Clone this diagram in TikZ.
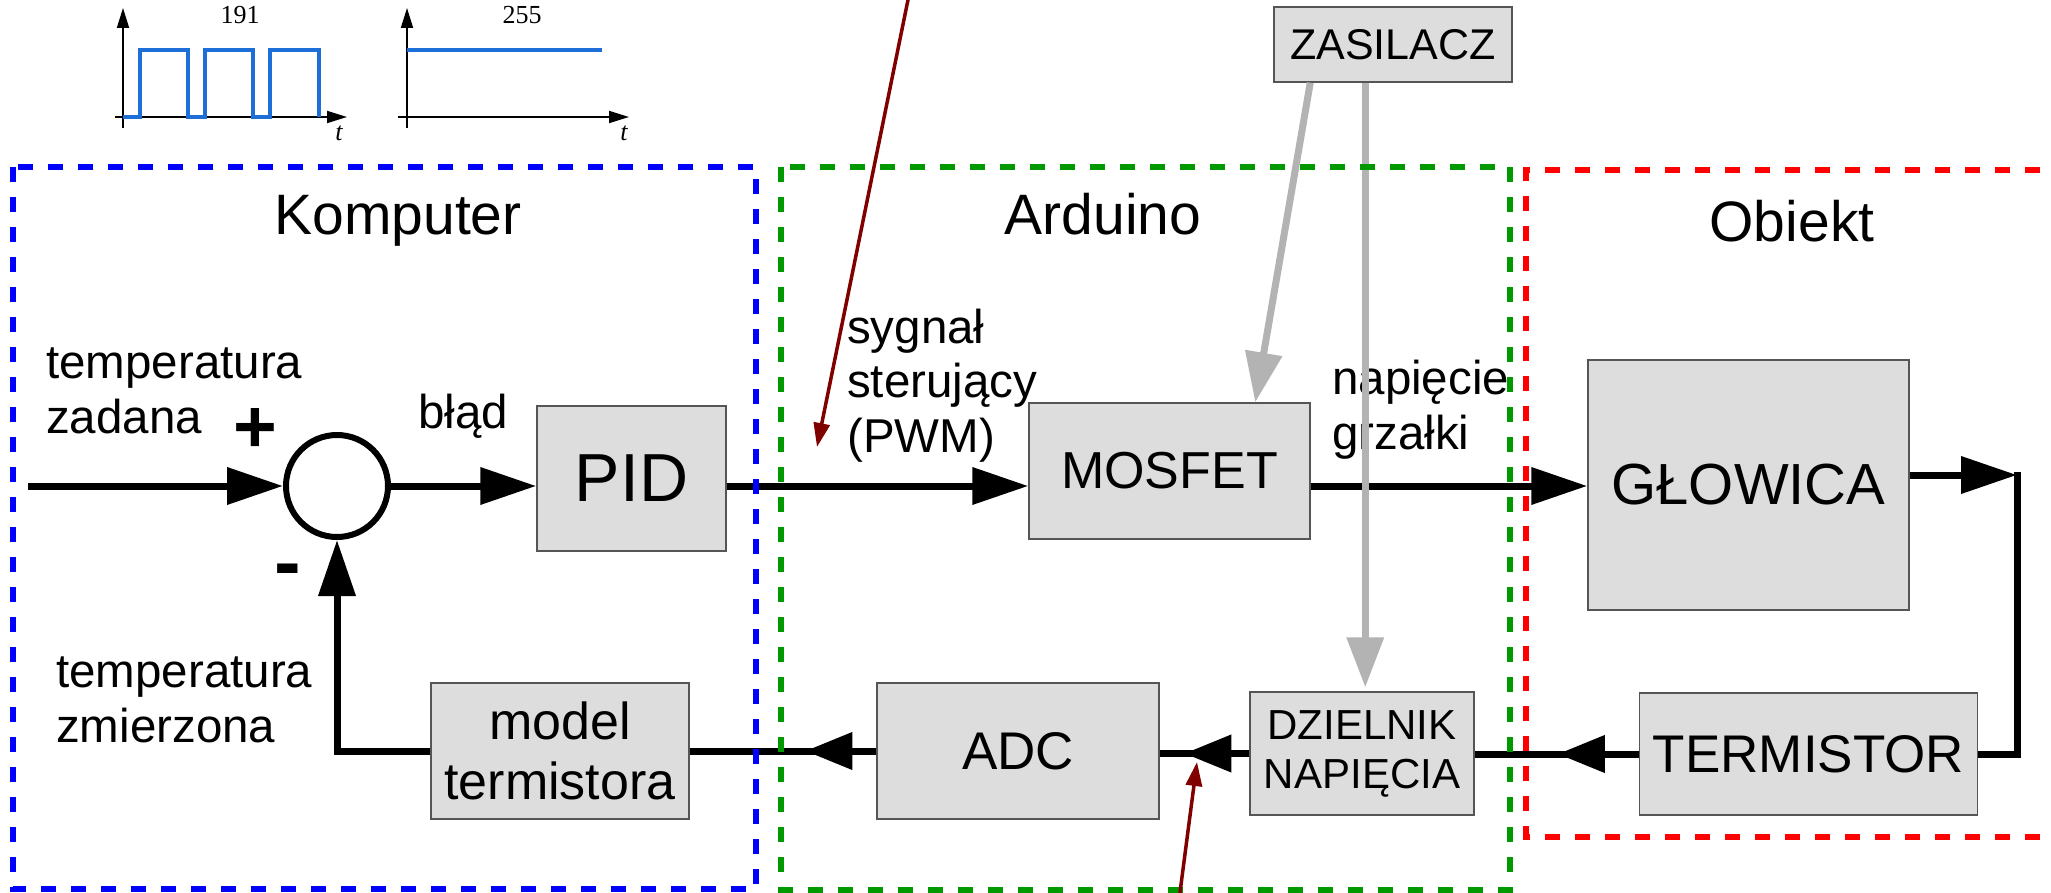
\documentclass[tikz,border=0pt]{standalone}
\usepackage{fontspec}
\setsansfont{Liberation Sans}
\newfontfamily\plotfont{Liberation Serif}
\usetikzlibrary{arrows.meta,calc}
\definecolor{boxgray}{HTML}{DDDDDD}
\definecolor{boxline}{HTML}{555555}
\definecolor{zblue}{HTML}{0000FF}
\definecolor{zgreen}{HTML}{009900}
\definecolor{zred}{HTML}{FF0000}
\definecolor{dred}{HTML}{800000}
\definecolor{pgray}{HTML}{B3B3B3}
\definecolor{wave}{HTML}{1E6ED7}
\tikzset{
  blk/.style={draw=boxline, line width=1.5pt, fill=boxgray, inner sep=0pt, align=center},
  conn/.style={line width=7pt, line join=miter},
  flow/.style={line width=7pt, line join=miter, -{Triangle[length=56pt,width=36pt]}},
  midflow/.style={line width=7pt, -{Triangle[length=47pt,width=36pt]}},
  pg/.style={draw=pgray, line width=7pt, -{Triangle[length=50pt,width=36pt]}},
  rarrow/.style={draw=dred, line width=3.5pt, -{Triangle[length=24pt,width=16pt]}},
  zone/.style={line width=6.5pt, dash pattern=on 15pt off 15pt},
  lbl/.style={font={\sffamily\fontsize{47.5}{54.5}\selectfont}, align=left, inner sep=0pt, anchor=base west},
  ttl/.style={font={\sffamily\fontsize{57}{64}\selectfont}, inner sep=0pt, anchor=base},
  axis/.style={line width=1.8pt, -{Triangle[length=20pt,width=12pt]}},
  wv/.style={draw=wave, line width=3.6pt},
  plbl/.style={font={\plotfont\fontsize{26}{28}\selectfont}, inner sep=0pt}
}
\begin{document}
\begin{tikzpicture}[x=1pt,y=-1pt]
\useasboundingbox (0,0) rectangle (2051,893);
\fill[white] (0,0) rectangle (2051,893);

% ---- waveforms ----
\draw[axis] (123,128) -- (123,8);
\draw[axis] (115,117) -- (347,117);
\draw[wv] (123,117) -- (140,117) -- (140,50) -- (188,50) -- (188,117) -- (205,117) -- (205,50) -- (253,50) -- (253,117) -- (270,117) -- (270,50) -- (319,50) -- (319,117);
\node[plbl] (v191) at (240,15.5) {191};
\node[plbl] (t1) at (339,133) {\itshape t};
\draw[axis] (407,128) -- (407,8);
\draw[axis] (398,117) -- (629,117);
\draw[wv] (407,50) -- (602,50);
\node[plbl] (v255) at (522,15.5) {255};
\node[plbl] (t2) at (624,133) {\itshape t};

% ---- blocks ----
\node[draw, circle, line width=6pt, minimum size=102pt, inner sep=0pt] (sum) at (337,486) {};
\node[blk, minimum width=189pt, minimum height=145pt, font={\sffamily\fontsize{68}{72}\selectfont}] (pid) at (631.5,478.5) {PID};
\node[blk, minimum width=281pt, minimum height=136pt, font={\sffamily\fontsize{52}{58}\selectfont}] (mosfet) at (1169.5,471) {MOSFET};
\node[blk, minimum width=321pt, minimum height=250pt, font={\sffamily\fontsize{58}{64}\selectfont}] (glowica) at (1748.5,485) {GŁOWICA};
\node[blk, minimum width=338pt, minimum height=122pt, font={\sffamily\fontsize{53}{58}\selectfont}] (termistor) at (1808.5,754) {TERMISTOR};
\node[blk, minimum width=224pt, minimum height=123pt, font={\sffamily\fontsize{42}{49}\selectfont}] (dz) at (1362,753.5) {DZIELNIK\\NAPIĘCIA};
\node[blk, minimum width=282pt, minimum height=136pt, font={\sffamily\fontsize{53}{58}\selectfont}] (adc) at (1018,751) {ADC};
\node[blk, minimum width=258pt, minimum height=136pt, font={\sffamily\fontsize{52}{60}\selectfont}] (model) at (560,751) {model\\termistora};
\node[blk, minimum width=238pt, minimum height=75pt, font={\sffamily\fontsize{43}{48}\selectfont}] (zas) at (1393,44.5) {ZASILACZ};

% ---- labels (base = baseline of last line) ----
\node[ttl] (tkomp) at (398,235) {Komputer};
\node[ttl] (tard) at (1103,235) {Arduino};
\node[ttl] (tobj) at (1792,242) {Obiekt};
\node[lbl] (ltz) at (46,433) {temperatura\\zadana};
\node[lbl] (lblad) at (418,428) {błąd};
\node[lbl] (lsyg) at (847,452) {sygnał\\sterujący\\(PWM)};
\node[lbl] (lnap) at (1332,449) {napięcie\\grzałki};
\node[lbl] (ltm) at (56,742) {temperatura\\zmierzona};
\node[font={\sffamily\bfseries\fontsize{75}{80}\selectfont}, inner sep=0pt] (plus) at (255,431) {+};
\node[font={\sffamily\bfseries\fontsize{80}{80}\selectfont}, inner sep=0pt] (minus) at (288,577) {-};

% ---- black connectors ----
\coordinate (in) at (28,486);
\draw[flow] (in) -- (sum.west);
\draw[flow] (sum.east) -- (sum.east -| pid.west);
\draw[flow] (pid.east |- sum) -- (mosfet.west |- sum);
\draw[flow] (mosfet.east |- sum) -- (glowica.west |- sum);
\coordinate (c1) at (2017,475);
\draw[flow] (glowica.east |- c1) -- (c1);
\draw[conn] ($(c1)+(0,-3.5)$) -- (c1 |- termistor) -- (termistor.east);
\draw[conn] (termistor.west) -- (termistor.west -| dz.east);
\draw[midflow] (termistor.west) -- ++(-81,0);
\draw[conn] (dz.west) -- (dz.west -| adc.east);
\draw[midflow] (dz.west) -- ++(-65,0);
\draw[conn] (adc.west) -- (adc.west -| model.east);
\draw[midflow] (adc.west) -- ++(-71,0);
\draw[flow] (model.west) -| (sum.south);

% ---- power (gray) ----
\coordinate (g1) at ($(zas.south west)+(37,0)$);
\coordinate (g1e) at ($(mosfet.north west)+(227,0)$);
\draw[pg] (g1) -- (g1e);
\coordinate (g2) at ($(zas.south west)+(92,0)$);
\draw[pg, shorten >=4pt] (g2) -- (g2 |- dz.north);

% ---- zones ----
\draw[zone, zblue] (13,167) rectangle (756,889);
\draw[zone, zgreen] (781,167) rectangle (1510,890);
\draw[zone, zred] (2070,170) -- (1526,170) -- (1526,837) -- (2070,837);

% ---- dark red pointers ----
\coordinate (r1s) at (910,-10);
\coordinate (r1e) at (817,447);
\draw[rarrow] (r1s) -- (r1e);
\coordinate (r2s) at (1179,900);
\coordinate (r2e) at (1197,762);
\draw[rarrow] (r2s) -- (r2e);
\end{tikzpicture}
\end{document}
